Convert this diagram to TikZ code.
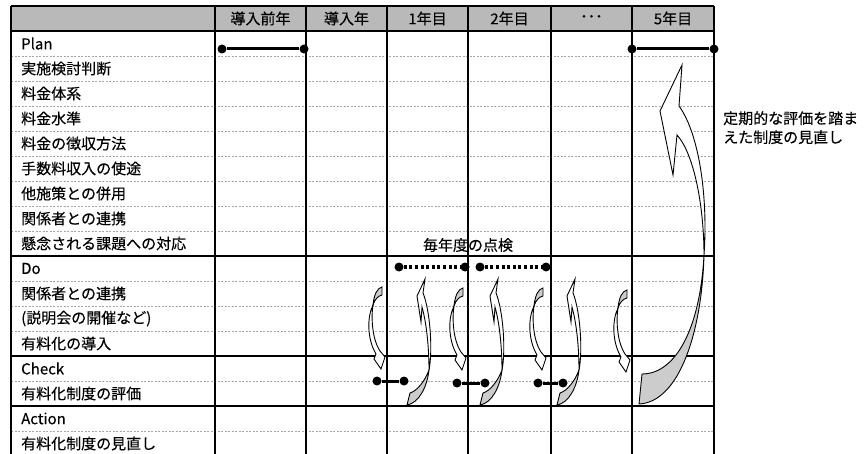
\documentclass[tikz,border=0pt]{standalone}
\usepackage{fontspec}
\setmainfont{Noto Sans CJK JP}[FakeBold=0.3]
\usetikzlibrary{positioning}
\tikzset{
  rowlabel/.style={anchor=west,inner sep=0pt,font=\fontsize{15}{19}\selectfont},
  headlabel/.style={inner sep=0pt,font=\fontsize{15}{19}\selectfont},
  dot/.style={circle,fill,inner sep=0pt,minimum size=9pt},
  bar/.style={line width=3pt},
  dotbar/.style={line width=3.2pt,dash pattern=on 3pt off 2.6pt},
  gridline/.style={line width=1.1pt},
  sepline/.style={gray!70,line width=0.8pt,dash pattern=on 2pt off 1.5pt},
  ribbonback/.style={draw,line width=0.9pt,fill=gray!40},
  ribbonfront/.style={draw,line width=0.9pt,fill=white}
}

\begin{document}
\begin{tikzpicture}[x=1pt,y=-1pt]
  \useasboundingbox (0,0) rectangle (864,454);

  % header and grid
  \fill[gray!55] (11,6) rectangle (714,31);
  \foreach \k in {1,...,8,10,11,12,14,16}
    \draw[sepline] (11,31+25*\k) -- (714,31+25*\k);
  \foreach \k in {0,9,13,15}
    \draw[gridline] (11,31+25*\k) -- (714,31+25*\k);
  \draw[gridline] (11,6) -- (714,6);
  \foreach \x in {11,215,306,387,468,551,632,714}
    \draw[gridline] (\x,6) -- (\x,454);

  \foreach \t/\x [count=\i] in {導入前年/260.5,導入年/346.5,1年目/427.5,2年目/509.5,･･･/591.5,5年目/673}
    \node[headlabel] (h\i) at (\x,18.5) {\t};

  \foreach \t [count=\i] in {Plan,実施検討判断,料金体系,料金水準,料金の徴収方法,手数料収入の使途,他施策との併用,関係者との連携,懸念される課題への対応,Do,関係者との連携,{(説明会の開催など)},有料化の導入,Check,有料化制度の評価,Action,有料化制度の見直し}
    \node[rowlabel] (r\i) at (21,18.5+25*\i) {\t};

  % plan
  \node[dot] (pa) at (222,49) {};
  \node[dot] (pb) at (304,49) {};
  \node[dot] (pc) at (632,49) {};
  \node[dot] (pd) at (714,49) {};
  \draw[bar] (pa) -- (pb);
  \draw[bar] (pc) -- (pd);

  % do
  \node[headlabel] (yearly) at (468,245) {毎年度の点検};
  \node[dot] (da) at (399,267) {};
  \node[dot] (db) at (465,267) {};
  \node[dot] (dc) at (480,267) {};
  \node[dot] (dd) at (546,267) {};
  \draw[dotbar] (da) -- (db);
  \draw[dotbar] (dc) -- (dd);

  % check
  \node[dot] (ca) at (377,381) {};
  \node[dot] (cb) at (404,381) {};
  \node[dot] (cc) at (457,383) {};
  \node[dot] (cd) at (485,383) {};
  \node[dot] (ce) at (538,383) {};
  \node[dot] (cf) at (563,383) {};
  \draw[bar] (ca) -- (cb);
  \draw[bar] (cc) -- (cd);
  \draw[bar] (ce) -- (cf);

  % small curved arrows, down
  \foreach \x/\y in {382/287,463/288,543/288,627/290}{
    \begin{scope}[shift={(\x,\y)}]
      \path[ribbonback] (0,0) -- (0,8) .. controls (-4,9) and (-7,12) .. (-9,18)
        .. controls (-8,8) and (-5,1) .. (0,0) -- cycle;
      \path[ribbonfront] (-9,18) .. controls (-15,30) and (-15,52) .. (-6,67)
        -- (-8,72) -- (-1,82) -- (3,70) -- (-2,64)
        .. controls (-10,52) and (-11,30) .. (-9,18) -- cycle;
    \end{scope}
  }

  % small curved arrows, up
  \foreach \x/\y in {407/405,480/405,557/405}{
    \begin{scope}[shift={(\x,\y)}]
      \path[ribbonback] (0,0) -- (3,-12) .. controls (10,-14) and (18,-24) .. (22,-35)
        .. controls (20,-18) and (12,-2) .. (0,0) -- cycle;
      \path[ribbonfront] (22,-35) .. controls (26,-55) and (23,-95) .. (16,-112)
        -- (18,-126) -- (10,-109) -- (14,-83) -- (15,-98)
        .. controls (20,-80) and (22,-55) .. (22,-35) -- cycle;
    \end{scope}
  }

  % review arrow
  \path[ribbonback] (639,404) -- (642,374) .. controls (675,374) and (700,330) .. (704,255)
    .. controls (702,330) and (680,402) .. (639,404) -- cycle;
  \path[ribbonfront] (704,255) .. controls (708,200) and (700,135) .. (679,106)
    -- (682,65) -- (660,111) -- (673,175) -- (677,135)
    .. controls (695,155) and (704,210) .. (704,255) -- cycle;
  \node[rowlabel,anchor=north west,align=left] (review) at (723,111) {定期的な評価を踏ま\\えた制度の見直し};
\end{tikzpicture}
\end{document}
